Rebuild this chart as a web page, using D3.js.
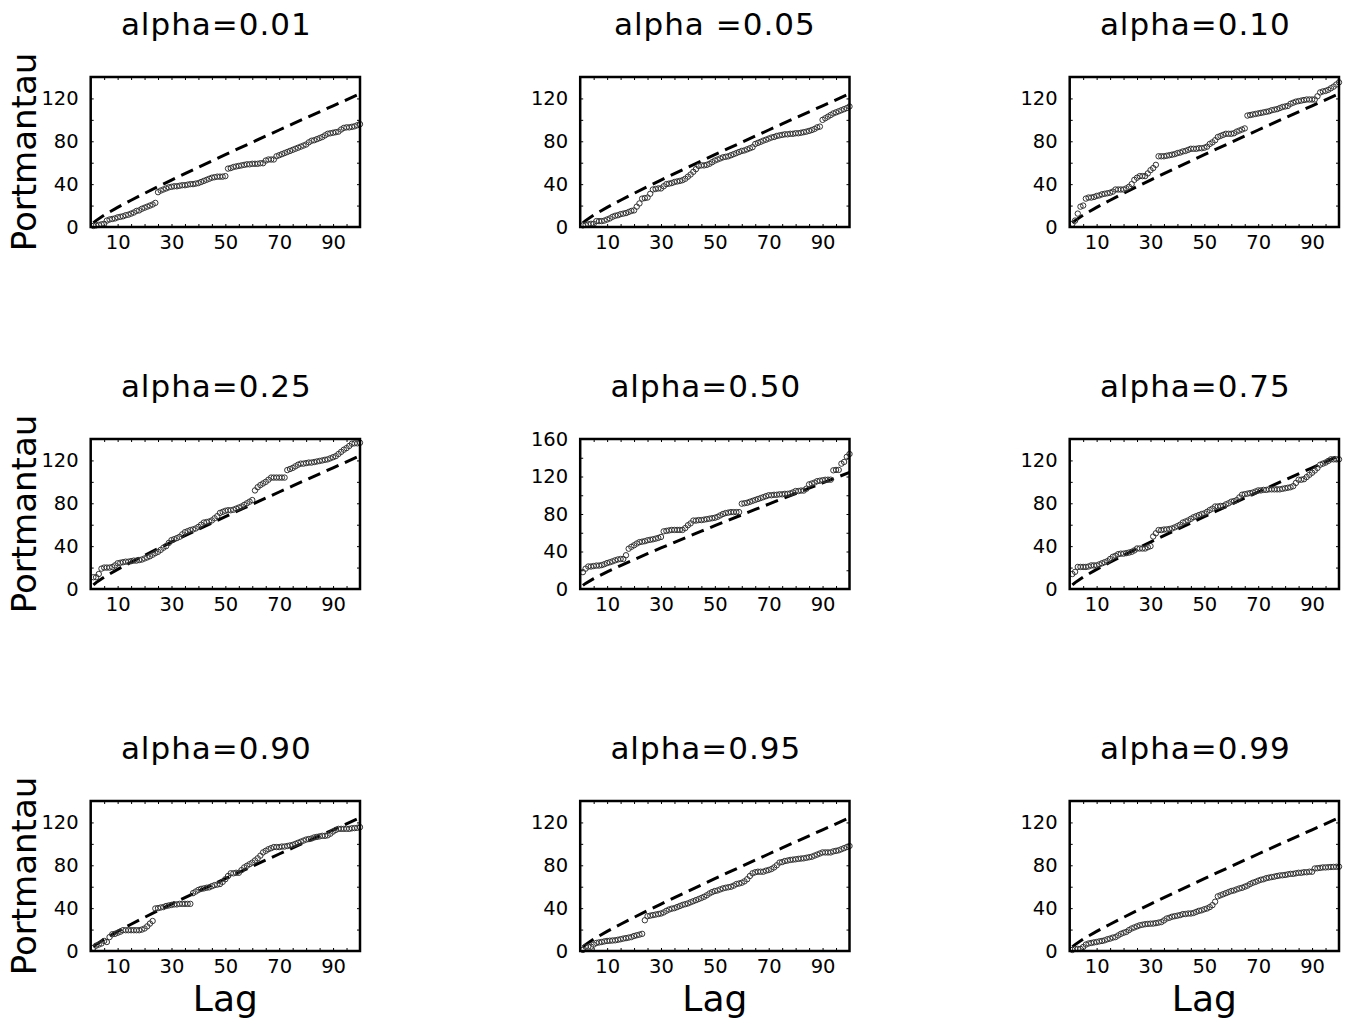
<!DOCTYPE html>
<html><head><meta charset="utf-8">
<script src="https://cdn.jsdelivr.net/npm/d3@7"></script>
<style>
body{margin:0;background:#fff}
svg text{font-family:"DejaVu Sans",sans-serif;fill:#000}
</style>
</head><body><svg id="chart" width="1353" height="1022"></svg>
<script>
const titles = ["alpha=0.01","alpha =0.05","alpha=0.10","alpha=0.25","alpha=0.50","alpha=0.75","alpha=0.90","alpha=0.95","alpha=0.99"];

const s001 = [1,1.5,2,2.5,3,6,7,7.5,8,9, 9.5,10,11,11.5,12.5,13.5,15,15.5,17,18, 19,20,21,22.5,32.5,34,35,36,37,37.5,
 38,38,38.5,39,39,39.5,40,40,40.5,41, 42,43,44,45,46,46.5,47,47,47,47.5, 54.5,55,56,56.5,57,57.5,58,58.5,58.5,59,
 59,59,59.5,59.5,62,63,63,63,66,67, 68,69,70,71,72,73,74,75,76,77, 79,80.5,81,82,83,84,85.5,87,87.5,88,
 88.5,89,91,92.5,93,93,93.5,94,95,96];
const s005 = [1.5,2,2.5,3,3,5.5,5.5,5.5,6,7, 8,9.5,10.5,11,12,12.5,13,14,15,15.5, 19,22,26.5,27,27.5,31,35,35.5,36,36,
 38,40,40.5,41,42,42.5,43,43.7,45,47, 49,51.5,54,57,57.5,57.5,58,59,60.5,62, 63,64,65,65.5,66,67,68,69,70,71,
 71.5,72.5,73.5,74.5,77.5,78.5,79.5,80.6,81.5,82.5, 83.5,84,85,85.5,86,86.5,86.5,87,87,87.5,
 87.5,88,88.5,89,89.7,90.5,91.5,93,93.7,100, 101.5,103,104.5,106,107,108,109,110,111,112.5];
const s010 = [3,6,12.5,19,20,26.5,27.5,27.5,28,29, 29.5,30.5,31,31.5,32,33,35,35,35,35, 36,37.5,40,44,46,47.5,47.5,47.5,50,53,
 55,58,66,66,66,66.5,67,67.5,68,69, 69.5,70.5,71,72,73,73,73,73.5,73.5,74, 75,77.5,79,81,84,85,86,87,87,87,
 87.5,89,90,91,92,104,104.5,105,105.5,106, 106.5,107,107.5,108,109,109.5,110,111,112,112.5,
 113,115,116,117,117.5,118,118.5,119,119,119, 119,122,125.6,126.5,127,128,129.5,131,133,135];
const s025 = [11,11,14,19,20,20,20,20.5,22,24, 24.5,25,25.5,25.5,26,26.5,26.5,27,27.5,28.5, 29.5,30.6,32,33.5,34.7,36.5,38.5,40,43,45.6,
 46.5,47.5,48.7,51,53,54,55,55.6,56.5,58, 60,62,62.5,63,64,66,68,71,72,73, 73.5,73.5,74,75,76,77,78.5,80,81.5,83,
 92,95,97,98.5,100,102,104,104,104,104, 104,104,111,112,113,114.5,116,117,117,117.5,
 118,118,118.5,119,119.5,120,120.6,121,122,123, 124,126,128,130,131.5,133.5,135.6,136,136,136.5];
const s050 = [18,21.7,24,24,24.5,25,25,25.5,26.5,27.7, 28.5,29.5,30.6,31.5,32,32,36,43,45,46.6, 48.5,50,50.5,51,52,52.5,53,53.7,54.5,55.5,
 61.5,62,62.5,63,63,63,63,63,65,68, 70,73,73,73.5,73.5,74,74.5,75,75.5,76, 77,78.5,80,81,81.5,82,82,82,82,91,
 91.5,92,93,94,95,96,97,98,99,100, 100,100.5,100.5,101,101,101.5,101.5,102,103,104.5,
 104.5,105,105,107,111.6,112.5,113.5,115,115.5,116, 116.5,116.6,116.6,126.6,127,127,133.7,135.5,141,144];
const s075 = [14,16,20.6,20.6,20.6,20.6,21,22,22,22, 23,24,25,26,28,30,31,32.5,33,33, 33.5,34,34.7,36,37.8,37.8,37.8,37.8,39,40,
 49,52,55,55,55.5,55.6,56,56.5,57.5,58.7, 60,62,63,64,65.5,67,68,69,70,70.6, 72,73.7,75,77,77,77.5,77.5,79,80,81.5,
 82,83,85.5,88,88.5,89,89.5,90,91,92, 92,92.5,92.5,93,93,93,93,93,93.5,94,
 94.5,95,96,99,102,102,102.5,104.5,106.6,108.5, 110.6,113,116,117,118,119.5,121,121,121,121];
const s090 = [3,5,6,7,9.4,8.4,13,15.6,16,17, 18,19.4,19.4,19.4,19.4,19.4,19.4,19.4,20,21, 23,25.6,28,39.7,40,40.6,41,42,42.5,43,
 43.5,43.5,44,44,44,44,44,54,55.5,57, 58,58.4,59,59.4,60.5,61.5,62,62.5,64.5,67, 70,72.5,72.5,73,73,75.5,78,79.5,81,82.5,
 84.5,86.5,89,92,93.5,95,96,97,97,97, 97.5,97.5,98,98.5,99,100,101,102,103,104,
 104.5,105,106,106.5,107,107.5,107.5,108,109.5,111.5, 113,114,114,114,114,114,114.5,114.7,115,115.6];
const s095 = [1,4,4,4,6,7.5,8,8.4,9,9.4, 9.6,9.8,10,10.5,11,11.6,12,12.5,13,14, 14.7,15.3,16,28.7,32.5,33,33.5,34,34.5,35,
 36,37.5,38.7,39.5,40,41,42,43,43.7,44.4, 45.5,46.5,47.5,48.5,49.5,50.6,52,53.7,55,56, 56.5,57.5,58.4,59,59.5,60,61,62.5,63,63.7,
 65,67,70,72.5,73.5,74,74,74,75,75.6, 76.5,78,80,82.5,83,84,84.4,85,85.3,85.6,
 86,86.3,86.5,87,87.5,88,89,90,91,92, 92,92,92,93,93.5,94,95,96,97,98];
const s099 = [1,2,2,2,3.7,6,7,7.5,8,8.4, 9,9.4,10,11,11.6,12.5,13,14.5,16,17, 17.8,19.5,21,22,23,24,24.5,25,25.3,25.5,
 25.6,26,26.5,27,28.5,30.3,31,32,32.5,33, 33.5,34.4,34.5,35,35,35.5,36.5,37.5,38,39, 39.7,41,42.8,46,51,52,53,54,55,56,
 56.5,57.5,58.4,59,60,61,62.5,63.7,64.5,65.6, 66.5,67,68,68.5,69,69.4,70,70.5,70.7,71,
 71.5,72,72,72.5,73,73,73.5,73.5,74,74, 77,77.3,77.6,78,78,78.2,78.4,78.5,78.6,78.7];

const critLags   = [1,2,5,10,15,20,25,30,35,40,45,50,55,60,65,70,75,80,85,90,95,100];
const critValues = [3.84,5.99,11.07,18.31,25.00,31.41,37.65,43.77,49.80,55.76,61.66,67.50,73.31,79.08,84.82,90.53,96.22,101.88,107.52,113.15,118.75,124.34];

const xTickLabels = [10,30,50,70,90];
const yTickLabels = [0,40,80,120];
const yTickLabels50 = [0,40,80,120,160];
const yMaxes = [140,140,140,140,160,140,140,140,140];

const series = [s001,s005,s010,s025,s050,s075,s090,s095,s099];
const lags = d3.range(1,101);

const svg = d3.select("#chart");
svg.append("rect").attr("width",1353).attr("height",1022).attr("fill","#fff");

const colX = [90.7, 580.2, 1069.7], rowY = [77, 439, 801];
const W = 269.3, H = 150;

series.forEach((vals, i) => {
  const r = Math.floor(i/3), c = i%3;
  const g = svg.append("g").attr("transform", `translate(${colX[c]},${rowY[r]})`);
  const x = d3.scaleLinear().domain([0,100]).range([0,W]);
  const yMax = yMaxes[i];
  const y = d3.scaleLinear().domain([0,yMax]).range([H,0]);
  const yLab = yMax === 160 ? yTickLabels50 : yTickLabels;

  const xMinor = d3.range(5,100,5);
  const yMinor = d3.range(0,yMax+1,20);

  const styleAxis = sel => {
    sel.select(".domain").remove();
    sel.selectAll(".tick line").attr("stroke","#000").attr("stroke-width",1);
    sel.selectAll("text").attr("font-family","'DejaVu Sans',sans-serif").attr("font-size",19.5).attr("fill","#000");
  };

  g.append("g").attr("transform",`translate(0,${H})`)
    .call(d3.axisBottom(x).tickValues(xMinor).tickSize(-3).tickPadding(8)
      .tickFormat(d => xTickLabels.includes(d) ? d : ""))
    .call(styleAxis);
  g.append("g")
    .call(d3.axisTop(x).tickValues(xMinor).tickSize(-3).tickFormat(""))
    .call(styleAxis);
  g.append("g")
    .call(d3.axisLeft(y).tickValues(yMinor).tickSize(-3).tickPadding(12)
      .tickFormat(d => yLab.includes(d) ? d : ""))
    .call(styleAxis);
  g.append("g").attr("transform",`translate(${W},0)`)
    .call(d3.axisRight(y).tickValues(yMinor).tickSize(-3).tickFormat(""))
    .call(styleAxis);

  // critical dashed line
  g.append("path")
    .datum(critLags.map((l,k) => [l, critValues[k]]))
    .attr("fill","none").attr("stroke","#000").attr("stroke-width",3)
    .attr("stroke-dasharray","13,7")
    .attr("d", d3.line().x(d => x(d[0])).y(d => y(d[1])));

  // points
  g.append("g").selectAll("circle").data(vals).join("circle")
    .attr("cx",(d,k) => x(lags[k])).attr("cy", d => y(d))
    .attr("r",2.7).attr("fill","none").attr("stroke","#333").attr("stroke-width",1);

  // frame
  g.append("rect").attr("width",W).attr("height",H)
    .attr("fill","none").attr("stroke","#000").attr("stroke-width",2.5);

  // title
  svg.append("text")
    .attr("x", colX[c] + W/2 - (i===1 ? 0 : 9))
    .attr("y", rowY[r] - 42)
    .attr("text-anchor","middle").attr("font-size",31).attr("letter-spacing","1px")
    .text(titles[i]);

  if (c === 0) {
    svg.append("text")
      .attr("transform",`translate(36,${rowY[r]+H/2}) rotate(-90)`)
      .attr("text-anchor","middle").attr("font-size",34)
      .text("Portmantau");
  }
  if (r === 2) {
    svg.append("text")
      .attr("x", colX[c] + W/2).attr("y", rowY[r] + H + 60)
      .attr("text-anchor","middle").attr("font-size",36)
      .text("Lag");
  }
});
</script>
</body></html>
